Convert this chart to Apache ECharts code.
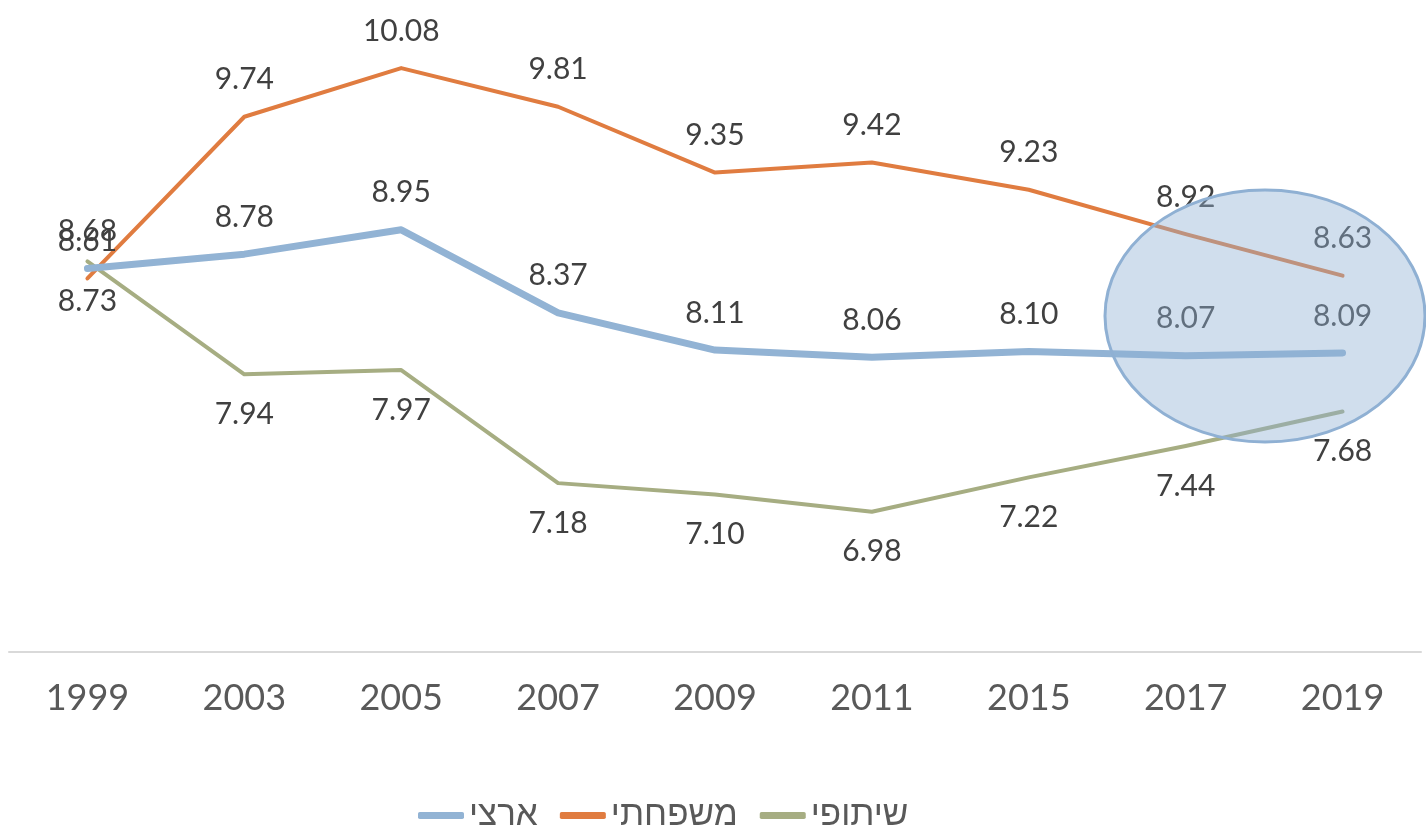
<!DOCTYPE html>
<html lang="he">
<head>
    <meta charset="UTF-8">
    <title>chart</title>
    <script src="https://cdn.jsdelivr.net/npm/echarts@6/dist/echarts.min.js"></script>
    <style>
        html, body { margin: 0; padding: 0; background: #fff; }
    </style>
</head>
<body>
<div id="main" style="width: 1426px;height:832px;"></div>
<script type="text/javascript">
    // data
    var years = ['1999', '2003', '2005', '2007', '2009', '2011', '2015', '2017', '2019'];
    var artzi = [8.68, 8.78, 8.95, 8.37, 8.11, 8.06, 8.10, 8.07, 8.09];
    var mishpachti = [8.61, 9.74, 10.08, 9.81, 9.35, 9.42, 9.23, 8.92, 8.63];
    var shitufi = [8.73, 7.94, 7.97, 7.18, 7.10, 6.98, 7.22, 7.44, 7.68];
    var seriesNames = ['ארצי', 'משפחתי', 'שיתופי'];

    var numFont = 'Lato, "Open Sans", sans-serif';

    var myChart = echarts.init(document.getElementById('main'));

    function lbl(pos, dist) {
        return {
            show: true,
            position: pos,
            distance: dist,
            fontSize: 30,
            fontFamily: numFont,
            color: '#404040',
            formatter: function (p) { return p.value.toFixed(2); }
        };
    }

    function line(name, data, color, width, pos, dist, z) {
        return {
            name: name,
            type: 'line',
            data: data,
            symbol: 'circle',
            symbolSize: 0,
            showSymbol: true,
            color: color,
            lineStyle: { width: width, cap: 'round', join: 'round' },
            label: lbl(pos, dist),
            z: z
        };
    }

    var option = {
        animation: false,
        grid: { left: 9, right: 5, top: 8, bottom: 180 },
        xAxis: {
            type: 'category',
            data: years,
            axisLine: { lineStyle: { color: '#d9d9d9', width: 2 } },
            axisTick: { show: false },
            axisLabel: { fontSize: 36, fontFamily: numFont, color: '#595959', margin: 28 }
        },
        yAxis: {
            type: 'value',
            min: 6,
            max: 10.5,
            show: false,
            splitLine: { show: false }
        },
        legend: {
            data: seriesNames,
            left: 413,
            top: 793,
            itemWidth: 46,
            itemHeight: 7,
            itemGap: 22,
            icon: 'roundRect',
            textStyle: { fontSize: 35, fontFamily: '"Liberation Sans", "DejaVu Sans", sans-serif', color: '#595959' }
        },
        series: [
            line(seriesNames[0], artzi, '#92b3d4', 7, 'top', 22, 3),
            line(seriesNames[1], mishpachti, '#e07c40', 4, 'top', 22, 2),
            line(seriesNames[2], shitufi, '#a6ad82', 4, 'bottom', 25, 2)
        ],
        graphic: [{
            type: 'ellipse',
            shape: { cx: 1265, cy: 316, rx: 160, ry: 126 },
            style: { fill: 'rgba(143,176,211,0.42)', stroke: '#8fb0d3', lineWidth: 3 },
            z: 100
        }]
    };
    myChart.setOption(option);
</script>
</body>
</html>
